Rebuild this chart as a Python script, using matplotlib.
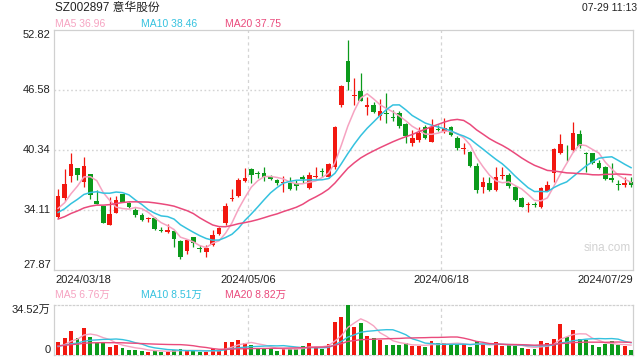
import matplotlib
matplotlib.use("Agg")
import matplotlib.pyplot as plt
import matplotlib.transforms as mtransforms
import numpy as np
import pandas as pd

# ---------- 数据 ----------
TITLE = "SZ002897 意华股份"
STAMP = "07-29 11:13"

# 日K (open, high, low, close)，2024/03/18 - 2024/07/29
opens = [33.41, 35.39, 37.68, 38.51, 37.05, 37.85, 35.04, 34.52, 32.55, 33.76,
         35.77, 34.87, 34.11, 33.59, 33.18, 33.24, 32.03, 31.79, 31.92, 30.88,
         29.88, 31.27, 30.19, 29.71, 30.47, 31.61, 32.72, 35.25, 35.60, 37.12,
         38.33, 37.99, 37.92, 37.57, 37.23, 36.88, 36.95, 36.95, 37.57, 36.36,
         37.50, 38.13, 37.57, 38.61, 45.02, 49.60, 45.92, 46.48, 44.78, 45.02,
         43.88, 44.19, 43.78, 44.16, 43.05, 41.04, 41.38, 42.77, 41.21, 42.49,
         42.22, 42.77, 41.63, 40.45, 40.17, 38.68, 36.53, 36.88, 36.19, 37.61,
         37.75, 36.53, 35.32, 34.63, 34.70, 34.45, 36.12, 37.92, 40.00, 40.38,
         40.30, 42.00, 40.07, 40.07, 39.00, 38.61, 37.40, 36.81, 36.71, 37.05]
highs = [36.26, 38.33, 40.00, 38.51, 39.65, 37.85, 36.19, 34.52, 35.49, 35.60,
         35.77, 34.97, 34.28, 33.83, 33.41, 33.41, 32.38, 32.65, 32.03, 30.99,
         31.06, 31.34, 30.47, 30.47, 32.03, 32.38, 34.80, 36.26, 37.40, 38.51,
         38.44, 38.20, 38.54, 37.75, 37.30, 37.64, 37.57, 37.23, 37.75, 38.09,
         38.61, 38.44, 38.96, 42.84, 47.10, 51.78, 47.80, 48.38, 45.89, 45.30,
         45.65, 46.24, 44.50, 44.40, 43.12, 42.43, 42.77, 42.95, 43.53, 42.95,
         43.64, 42.84, 41.80, 41.04, 40.24, 39.03, 37.57, 37.50, 38.61, 38.54,
         37.92, 36.60, 35.49, 34.97, 34.97, 36.53, 37.16, 40.52, 41.97, 40.86,
         43.29, 42.42, 40.17, 40.07, 39.31, 38.68, 39.00, 37.23, 37.57, 37.57]
lows = [33.30, 35.08, 37.05, 37.23, 36.53, 35.22, 34.77, 32.72, 32.55, 33.76,
        34.90, 34.28, 33.41, 33.00, 32.83, 32.03, 31.86, 31.76, 30.29, 28.98,
        29.53, 30.29, 29.78, 29.26, 30.40, 31.55, 32.55, 35.08, 35.49, 37.05,
        36.88, 37.40, 37.16, 37.23, 36.71, 36.01, 36.19, 36.19, 36.88, 36.26,
        37.40, 37.57, 37.40, 38.33, 44.78, 46.58, 45.02, 45.40, 43.98, 44.16,
        43.46, 43.19, 43.40, 42.60, 41.11, 40.76, 41.21, 41.46, 41.14, 42.29,
        42.12, 41.80, 40.34, 39.93, 38.61, 35.91, 35.91, 36.12, 36.12, 37.30,
        36.36, 35.08, 34.38, 33.93, 34.38, 34.28, 36.05, 37.05, 39.93, 39.20,
        40.10, 40.52, 38.09, 38.89, 38.37, 37.23, 37.05, 36.19, 36.45, 36.50]
closes = [35.60, 36.81, 38.89, 37.75, 38.68, 35.70, 34.77, 32.72, 33.69, 35.15,
          34.97, 34.45, 33.59, 33.07, 33.24, 32.10, 31.96, 32.00, 31.09, 29.26,
          30.99, 30.64, 30.02, 30.12, 31.51, 32.27, 34.56, 35.39, 37.23, 37.47,
          37.75, 37.89, 37.57, 37.30, 36.95, 36.98, 36.29, 36.60, 37.36, 37.75,
          37.64, 38.02, 38.89, 42.77, 46.99, 47.45, 46.03, 45.47, 45.02, 44.33,
          44.40, 44.09, 43.71, 42.87, 41.84, 41.56, 42.15, 41.56, 42.77, 42.43,
          42.64, 41.91, 40.52, 40.59, 38.68, 36.19, 37.05, 36.19, 37.57, 37.71,
          36.60, 35.15, 34.45, 34.70, 34.63, 36.36, 36.71, 40.45, 40.93, 40.31,
          42.08, 40.75, 39.93, 38.96, 38.44, 37.30, 37.23, 36.71, 36.95, 36.71]

# 成交量（万手）
volumes = [9.2, 12.0, 16.8, 12.0, 18.9, 12.7, 8.1, 8.1, 5.8, 6.9,
           5.1, 3.5, 3.5, 3.0, 2.3, 3.0, 2.3, 2.3, 3.5, 4.1,
           3.0, 3.0, 2.3, 2.3, 4.1, 2.8, 9.2, 8.7, 10.4, 8.1,
           6.9, 4.6, 4.6, 4.6, 3.0, 4.6, 4.1, 4.1, 6.4, 8.1,
           5.8, 4.1, 7.6, 22.8, 26.2, 34.52, 19.3, 22.1, 13.1, 11.7,
           10.6, 6.9, 6.9, 6.9, 8.1, 6.2, 6.4, 5.5, 9.7, 8.3,
           8.3, 7.4, 7.4, 7.4, 5.5, 9.7, 7.4, 4.8, 9.0, 6.2,
           7.4, 6.2, 4.7, 4.0, 3.9, 9.4, 8.3, 11.0, 21.4, 12.7,
           17.3, 10.8, 10.4, 6.9, 5.5, 7.8, 9.7, 6.9, 6.2, 3.5]

# 图外前19个交易日（由图左端均线起点估计），仅用于计算均线
prior_closes = [31.9, 32.2, 32.6, 32.4, 32.1, 32.5, 32.8, 32.6, 32.9, 32.8,
                33.1, 33.5, 33.3, 33.6, 33.7, 33.9, 34.2, 33.8, 33.9]
prior_volumes = [6.0, 7.2, 6.5, 5.8, 7.0, 6.8, 6.1, 7.4, 6.6, 6.6,
                 7.1, 6.4, 6.9, 6.2, 6.4, 5.2, 4.8, 5.1, 4.7]

# 图上标注的最新均线值
ma_price_labels = ["36.96", "38.46", "37.75"]
ma_vol_labels = ["6.76万", "8.51万", "8.82万"]

tick_labels = ["2024/03/18", "2024/05/06", "2024/06/18", "2024/07/29"]
tick_idx = [0, 30, 60, 89]
price_ticks = [27.87, 34.11, 40.34, 46.58, 52.82]
vol_max = 34.52

MA_WINDOWS = (5, 10, 20)
MA_COLORS = {5: "#f6a3c1", 10: "#35c2df", 20: "#ea4a7c"}
RED = "#f2170f"
GREEN = "#0b9a1b"
FONT = ["Liberation Sans", "Noto Sans CJK SC"]


def moving_averages(prior, values):
    s = pd.Series(list(prior) + list(values), dtype=float)
    n = len(values)
    return {w: s.rolling(w).mean().to_numpy()[-n:] for w in MA_WINDOWS}


plt.rcParams["font.family"] = FONT

o = np.array(opens)
h = np.array(highs)
l = np.array(lows)
c = np.array(closes)
v = np.array(volumes)
x = np.arange(len(c))
up = c >= o
colors = np.where(up, RED, GREEN)

ma_price = moving_averages(prior_closes, closes)
ma_vol = moving_averages(prior_volumes, volumes)

W, H = 640, 360
fig = plt.figure(figsize=(6.4, 3.6), dpi=100)
left, right = 54.3 / W, 633 / W
ax = fig.add_axes([left, 90 / H, right - left, 240 / H])
axv = fig.add_axes([left, 5 / H, right - left, 50 / H])
xlim = (-0.6, 89.3)

# ---------- K线 ----------
ax.vlines(x, l, h, colors=colors, lw=0.9, zorder=3)
body_h = np.maximum(np.abs(c - o), 0.07)
ax.bar(x, body_h, bottom=np.minimum(o, c), width=0.72, color=colors, lw=0, zorder=4)
for w in MA_WINDOWS:
    ax.plot(x, ma_price[w], color=MA_COLORS[w], lw=1.1, zorder=5)

ax.set_xlim(*xlim)
ax.set_ylim(price_ticks[0], price_ticks[-1])
ax.set_xticks([])
ax.set_yticks([])
for sp in ax.spines.values():
    sp.set_color("#d0d0d0")
    sp.set_linewidth(0.9)
for yv in price_ticks[1:-1]:
    ax.axhline(yv, color="#d4d4d4", lw=1.0, ls=(0, (1.2, 1.8)), zorder=1)
for xi in tick_idx[1:-1]:
    ax.axvline(xi - 0.5, color="#d4d4d4", lw=0.9, ls=(0, (2.5, 2.5)), zorder=1)
    axv.axvline(xi - 0.5, color="#d4d4d4", lw=0.9, ls=(0, (2.5, 2.5)), zorder=1)

ytrans = mtransforms.blended_transform_factory(ax.transAxes, ax.transData)
for i, yv in enumerate(price_ticks):
    va = "bottom" if i == 0 else ("top" if i == len(price_ticks) - 1 else "center")
    ax.text(-0.006, yv, f"{yv:.2f}", transform=ytrans, ha="right", va=va,
            fontsize=8, color="#222222")

xtrans = mtransforms.blended_transform_factory(ax.transData, ax.transAxes)
for i, (xi, lab) in enumerate(zip(tick_idx, tick_labels)):
    if i == 0:
        ax.text(0.002, -0.02, lab, transform=ax.transAxes, ha="left", va="top",
                fontsize=8, color="#222222")
    elif i == len(tick_idx) - 1:
        ax.text(1.0, -0.02, lab, transform=ax.transAxes, ha="right", va="top",
                fontsize=8, color="#222222")
    else:
        ax.text(xi - 0.5, -0.02, lab, transform=xtrans, ha="center", va="top",
                fontsize=8, color="#222222")

ax.text(0.955, 0.09, "sina.com", transform=ax.transAxes, ha="center", va="center",
        fontsize=8.5, color="#d2d2d2")

# ---------- 成交量 ----------
axv.bar(x, v, width=0.6, color=colors, lw=0, zorder=3)
for w in MA_WINDOWS:
    axv.plot(x, ma_vol[w], color=MA_COLORS[w], lw=1.0, zorder=4)
axv.set_xlim(*xlim)
axv.set_ylim(0, vol_max)
axv.set_xticks([])
axv.set_yticks([])
for name, sp in axv.spines.items():
    sp.set_color("#d0d0d0")
    sp.set_linewidth(0.9)
    if name in ("top", "bottom"):
        sp.set_linestyle((0, (1.2, 1.8)))
vtrans = mtransforms.blended_transform_factory(axv.transAxes, axv.transData)
axv.text(-0.006, vol_max, f"{vol_max:.2f}万", transform=vtrans, ha="right", va="top",
         fontsize=8, color="#222222")
axv.text(-0.006, 0, "0", transform=vtrans, ha="right", va="bottom",
         fontsize=8, color="#222222")

# ---------- 标题与均线数值 ----------
fig.text(55 / W, 1 - 8 / H, TITLE, ha="left", va="center", fontsize=8.5, color="#222222")
fig.text(637 / W, 1 - 8 / H, STAMP, ha="right", va="center", fontsize=7.5, color="#222222")
ma_x = [55, 140.7, 225.3]
for w, xp, pl, vl in zip(MA_WINDOWS, ma_x, ma_price_labels, ma_vol_labels):
    fig.text(xp / W, 1 - 24 / H, f"MA{w} {pl}", ha="left", va="center",
             fontsize=7.5, color=MA_COLORS[w])
    fig.text(xp / W, 1 - 295 / H, f"MA{w} {vl}", ha="left", va="center",
             fontsize=7.5, color=MA_COLORS[w])

fig.savefig("out.png", dpi=100)
